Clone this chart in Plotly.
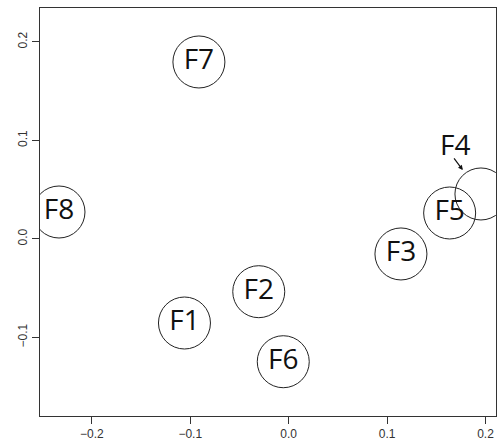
import plotly.graph_objects as go

labels = ["F1", "F2", "F3", "F4", "F5", "F6", "F7", "F8"]
xs = [-0.1059, -0.0304, 0.1141, 0.1954, 0.1636, -0.0055, -0.0912, -0.2334]
ys = [-0.0853, -0.0535, -0.0152, 0.0457, 0.0264, -0.1246, 0.1797, 0.0274]

x_ticks = [-0.2, -0.1, 0.0, 0.1, 0.2]
x_ticktext = ["\u22120.2", "\u22120.1", "0.0", "0.1", "0.2"]
y_ticks = [-0.1, 0.0, 0.1, 0.2]
y_ticktext = ["\u22120.1", "0.0", "0.1", "0.2"]

inline = [l != "F4" for l in labels]
label_font = dict(family="Open Sans", size=28, color="#111111")

fig = go.Figure()
fig.add_trace(go.Scatter(
    x=xs, y=ys, mode="markers",
    marker=dict(symbol="circle-open", size=52, color="#222222", line=dict(width=1, color="#222222")),
    cliponaxis=True, hoverinfo="skip", showlegend=False,
))
fig.add_trace(go.Scatter(
    x=[x for x, k in zip(xs, inline) if k],
    y=[y for y, k in zip(ys, inline) if k],
    text=[l for l, k in zip(labels, inline) if k],
    mode="text", textposition="middle center",
    textfont=label_font,
    cliponaxis=False, hoverinfo="skip", showlegend=False,
))

i4 = labels.index("F4")
# arrow pointing at F4 circle
fig.add_annotation(
    x=xs[i4], y=ys[i4], xref="x", yref="y",
    text="", showarrow=True, ax=-28, ay=-37,
    arrowhead=2, arrowsize=0.8, arrowwidth=1.2, arrowcolor="#111111",
    standoff=30,
)
# F4 label placed outside its circle
fig.add_annotation(
    x=xs[i4], y=ys[i4], xref="x", yref="y",
    text=labels[i4], showarrow=False, xshift=-26, yshift=50,
    font=label_font,
)

axis_common = dict(
    showline=True, mirror=True, linecolor="#333333", linewidth=1,
    showgrid=False, zeroline=False, ticks="outside", ticklen=7,
    tickcolor="#333333", tickwidth=1,
    tickfont=dict(family="Liberation Sans, Arial", size=12, color="#333333"),
)

fig.update_xaxes(range=[-0.2527, 0.2107], tickmode="array", tickvals=x_ticks,
                 ticktext=x_ticktext, **axis_common)
fig.update_yaxes(range=[-0.1797, 0.2345], tickmode="array", tickvals=y_ticks,
                 ticktext=y_ticktext, tickangle=-90, **axis_common)

fig.update_layout(
    width=499, height=444,
    margin=dict(l=40, r=3, t=8, b=28),
    plot_bgcolor="white", paper_bgcolor="white",
)

fig.write_html("out.html")
